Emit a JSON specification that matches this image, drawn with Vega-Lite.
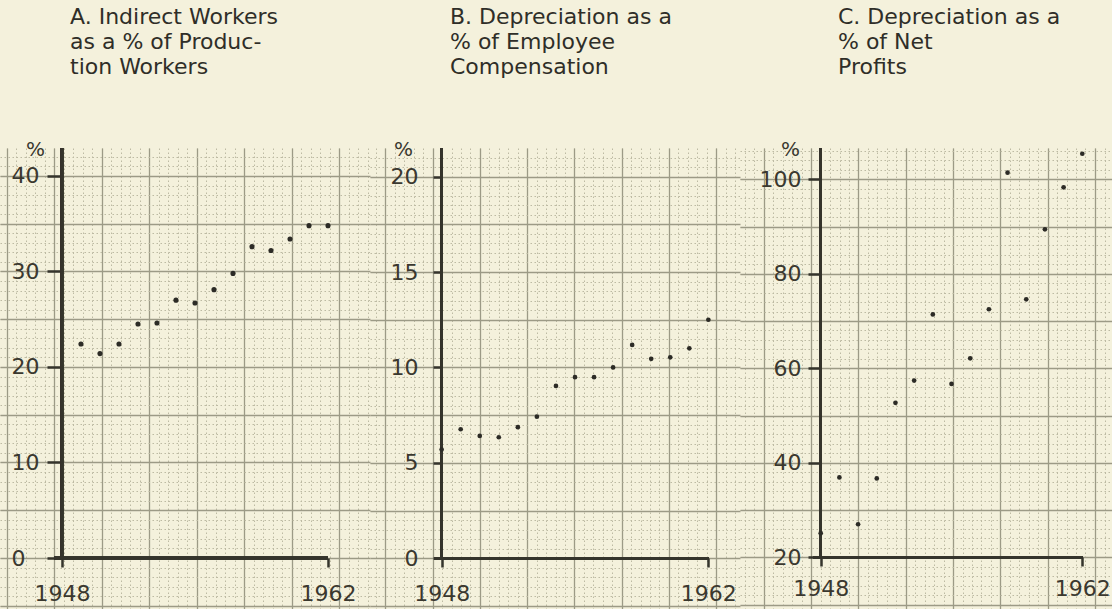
{
  "$schema": "https://vega.github.io/schema/vega-lite/v6.json",
  "padding": {"top": 6, "left": 0, "right": 0, "bottom": 0},
  "background": "#f4f1dc",
  "spacing": 0,
  "config": {
    "view": {"stroke": null},
    "font": "DejaVu Sans",
    "title": {"font": "DejaVu Sans", "fontSize": 22, "fontWeight": "normal", "color": "#2f2e28", "anchor": "start", "lineHeight": 25, "offset": 60, "frame": "group"},
    "axis": {"labelFont": "DejaVu Sans", "labelFontSize": 22, "labelColor": "#3a382f", "titleFont": "DejaVu Sans", "titleFontSize": 20, "titleFontWeight": "normal", "titleColor": "#3a382f", "tickColor": "#35342c", "tickWidth": 2.5, "labelFlush": false, "labelOverlap": false}
  },
  "datasets": {
    "A": [
      {"year": 1949, "value": 22.4}, {"year": 1950, "value": 21.4}, {"year": 1951, "value": 22.4},
      {"year": 1952, "value": 24.5}, {"year": 1953, "value": 24.6}, {"year": 1954, "value": 27.0},
      {"year": 1955, "value": 26.7}, {"year": 1956, "value": 28.1}, {"year": 1957, "value": 29.8},
      {"year": 1958, "value": 32.6}, {"year": 1959, "value": 32.2}, {"year": 1960, "value": 33.4},
      {"year": 1961, "value": 34.8}, {"year": 1962, "value": 34.8}
    ],
    "B": [
      {"year": 1948, "value": 5.7}, {"year": 1949, "value": 6.76}, {"year": 1950, "value": 6.41},
      {"year": 1951, "value": 6.34}, {"year": 1952, "value": 6.87}, {"year": 1953, "value": 7.42},
      {"year": 1954, "value": 9.03}, {"year": 1955, "value": 9.49}, {"year": 1956, "value": 9.49},
      {"year": 1957, "value": 10.0}, {"year": 1958, "value": 11.18}, {"year": 1959, "value": 10.45},
      {"year": 1960, "value": 10.53}, {"year": 1961, "value": 11.0}, {"year": 1962, "value": 12.5}
    ],
    "C": [
      {"year": 1948, "value": 25.1}, {"year": 1949, "value": 36.9}, {"year": 1950, "value": 27.0},
      {"year": 1951, "value": 36.7}, {"year": 1952, "value": 52.7}, {"year": 1953, "value": 57.4},
      {"year": 1954, "value": 71.4}, {"year": 1955, "value": 56.7}, {"year": 1956, "value": 62.1},
      {"year": 1957, "value": 72.5}, {"year": 1958, "value": 101.4}, {"year": 1959, "value": 74.6},
      {"year": 1960, "value": 89.4}, {"year": 1961, "value": 98.3}, {"year": 1962, "value": 105.4}
    ]
  },
  "hconcat": [
    {
      "width": 370, "height": 461,
      "title": {"text": ["A. Indirect Workers", "\u00a0\u00a0\u00a0as a % of Produc-", "\u00a0\u00a0\u00a0tion Workers"], "dx": 70},
      "data": {"name": "A"},
      "layer": [
        {"mark": {"type": "point", "opacity": 0},
         "encoding": {
           "x": {"field": "year", "type": "quantitative", "scale": {"domain": [1944.74, 1964.21], "nice": false, "zero": false},
                 "axis": {"orient": "bottom", "values": [1945.1,1945.6,1946.1,1946.6,1947.1,1947.6,1948.1,1948.6,1949.1,1949.6,1950.1,1950.6,1951.1,1951.6,1952.1,1952.6,1953.1,1953.6,1954.1,1954.6,1955.1,1955.6,1956.1,1956.6,1957.1,1957.6,1958.1,1958.6,1959.1,1959.6,1960.1,1960.6,1961.1,1961.6,1962.1,1962.6,1963.1,1963.6,1964.1], "grid": true, "gridColor": "#bdbaa3", "gridDash": [1.5, 2.5], "gridWidth": 1, "labels": false, "ticks": false, "domain": false, "title": null}},
           "y": {"field": "value", "type": "quantitative", "scale": {"domain": [-5.34, 42.93], "nice": false, "zero": false},
                 "axis": {"orient": "left", "values": [-5,-4,-3,-2,-1,0,1,2,3,4,5,6,7,8,9,10,11,12,13,14,15,16,17,18,19,20,21,22,23,24,25,26,27,28,29,30,31,32,33,34,35,36,37,38,39,40,41,42], "grid": true, "gridColor": "#bdbaa3", "gridDash": [1.5, 2.5], "gridWidth": 1, "labels": false, "ticks": false, "domain": false, "title": null}}
         }},
        {"mark": {"type": "point", "opacity": 0},
         "encoding": {
           "x": {"field": "year", "type": "quantitative", "scale": {"domain": [1944.74, 1964.21], "nice": false, "zero": false},
                 "axis": {"orient": "bottom", "values": [1945.1,1947.6,1950.1,1952.6,1955.1,1957.6,1960.1,1962.6], "grid": true, "gridColor": "#9c9a86", "gridWidth": 1.3, "labels": false, "ticks": false, "domain": false, "title": null}},
           "y": {"field": "value", "type": "quantitative", "scale": {"domain": [-5.34, 42.93], "nice": false, "zero": false},
                 "axis": {"orient": "left", "values": [-5,0,5,10,15,20,25,30,35,40], "grid": true, "gridColor": "#9c9a86", "gridWidth": 1.3, "labels": false, "ticks": false, "domain": false, "title": null}}
         }},
        {"mark": {"type": "rule", "color": "#35342c", "strokeWidth": 2.5},
         "encoding": {"x": {"datum": 1948, "axis": null, "scale": {"domain": [1944.74, 1964.21], "nice": false, "zero": false}}, "y": {"datum": 0, "axis": null, "scale": {"domain": [-5.34, 42.93], "nice": false, "zero": false}}, "y2": {"datum": 42.93}}},
        {"mark": {"type": "rule", "color": "#35342c", "strokeWidth": 2.5},
         "encoding": {"y": {"datum": 0, "axis": null, "scale": {"domain": [-5.34, 42.93], "nice": false, "zero": false}}, "x": {"datum": 1947.6, "axis": null, "scale": {"domain": [1944.74, 1964.21], "nice": false, "zero": false}}, "x2": {"datum": 1962}}},
        {"mark": {"type": "circle", "size": 26, "color": "#2c2b26", "opacity": 1},
         "encoding": {
           "x": {"field": "year", "type": "quantitative", "scale": {"domain": [1944.74, 1964.21], "nice": false, "zero": false},
                 "axis": {"orient": "bottom", "values": [1948, 1962], "format": "d", "offset": -51, "grid": false, "domain": false, "tickSize": 9, "labelPadding": 16, "title": null}},
           "y": {"field": "value", "type": "quantitative", "scale": {"domain": [-5.34, 42.93], "nice": false, "zero": false},
                 "axis": {"orient": "left", "values": [0, 10, 20, 30, 40], "offset": -62, "grid": false, "domain": false, "tickSize": 15, "labelAlign": "left", "labelPadding": 36, "title": "%", "titleAngle": 0, "titleX": -27, "titleY": 1, "titleAlign": "center", "titleBaseline": "middle"}}
         }}
      ],
      "resolve": {"axis": {"x": "independent", "y": "independent"}}
    },
    {
      "width": 370, "height": 461,
      "title": {"text": ["B. Depreciation as a", "\u00a0\u00a0% of Employee", "\u00a0\u00a0Compensation"], "dx": 80},
      "data": {"name": "B"},
      "layer": [
        {"mark": {"type": "point", "opacity": 0},
         "encoding": {
           "x": {"field": "year", "type": "quantitative", "scale": {"domain": [1944.24, 1963.66], "nice": false, "zero": false},
                 "axis": {"orient": "bottom", "values": [1944.55,1945.05,1945.55,1946.04,1946.54,1947.03,1947.53,1948.03,1948.52,1949.02,1949.51,1950.01,1950.51,1951.0,1951.5,1951.99,1952.49,1952.99,1953.48,1953.98,1954.47,1954.97,1955.47,1955.96,1956.46,1956.95,1957.45,1957.95,1958.44,1958.94,1959.43,1959.93,1960.43,1960.92,1961.42,1961.91,1962.41,1962.91,1963.4], "grid": true, "gridColor": "#bdbaa3", "gridDash": [1.5, 2.5], "gridWidth": 1, "labels": false, "ticks": false, "domain": false, "title": null}},
           "y": {"field": "value", "type": "quantitative", "scale": {"domain": [-2.66, 21.5], "nice": false, "zero": false},
                 "axis": {"orient": "left", "values": [-2.5,-2,-1.5,-1,-0.5,0,0.5,1,1.5,2,2.5,3,3.5,4,4.5,5,5.5,6,6.5,7,7.5,8,8.5,9,9.5,10,10.5,11,11.5,12,12.5,13,13.5,14,14.5,15,15.5,16,16.5,17,17.5,18,18.5,19,19.5,20,20.5,21], "grid": true, "gridColor": "#bdbaa3", "gridDash": [1.5, 2.5], "gridWidth": 1, "labels": false, "ticks": false, "domain": false, "title": null}}
         }},
        {"mark": {"type": "point", "opacity": 0},
         "encoding": {
           "x": {"field": "year", "type": "quantitative", "scale": {"domain": [1944.24, 1963.66], "nice": false, "zero": false},
                 "axis": {"orient": "bottom", "values": [1945.05,1947.53,1950.01,1952.49,1954.97,1957.45,1959.93,1962.41], "grid": true, "gridColor": "#9c9a86", "gridWidth": 1.3, "labels": false, "ticks": false, "domain": false, "title": null}},
           "y": {"field": "value", "type": "quantitative", "scale": {"domain": [-2.66, 21.5], "nice": false, "zero": false},
                 "axis": {"orient": "left", "values": [-2.5,0,2.5,5,7.5,10,12.5,15,17.5,20], "grid": true, "gridColor": "#9c9a86", "gridWidth": 1.3, "labels": false, "ticks": false, "domain": false, "title": null}}
         }},
        {"mark": {"type": "rule", "color": "#35342c", "strokeWidth": 2.5},
         "encoding": {"x": {"datum": 1948, "axis": null, "scale": {"domain": [1944.24, 1963.66], "nice": false, "zero": false}}, "y": {"datum": 0, "axis": null, "scale": {"domain": [-2.66, 21.5], "nice": false, "zero": false}}, "y2": {"datum": 21.5}}},
        {"mark": {"type": "rule", "color": "#35342c", "strokeWidth": 2.5},
         "encoding": {"y": {"datum": 0, "axis": null, "scale": {"domain": [-2.66, 21.5], "nice": false, "zero": false}}, "x": {"datum": 1947.6, "axis": null, "scale": {"domain": [1944.24, 1963.66], "nice": false, "zero": false}}, "x2": {"datum": 1962}}},
        {"mark": {"type": "circle", "size": 22, "color": "#2c2b26", "opacity": 1},
         "encoding": {
           "x": {"field": "year", "type": "quantitative", "scale": {"domain": [1944.24, 1963.66], "nice": false, "zero": false},
                 "axis": {"orient": "bottom", "values": [1948, 1962], "format": "d", "offset": -51, "grid": false, "domain": false, "tickSize": 9, "labelPadding": 16, "title": null}},
           "y": {"field": "value", "type": "quantitative", "scale": {"domain": [-2.66, 21.5], "nice": false, "zero": false},
                 "axis": {"orient": "left", "values": [0, 5, 10, 15, 20], "offset": -72, "grid": false, "domain": false, "tickSize": 9, "labelPadding": 15, "title": "%", "titleAngle": 0, "titleX": -39, "titleY": 1, "titleAlign": "center", "titleBaseline": "middle"}}
         }}
      ],
      "resolve": {"axis": {"x": "independent", "y": "independent"}}
    },
    {
      "width": 372, "height": 461,
      "title": {"text": ["C. Depreciation as a", "\u00a0\u00a0\u00a0\u00a0% of Net", "\u00a0\u00a0\u00a0\u00a0Profits"], "dx": 98},
      "data": {"name": "C"},
      "layer": [
        {"mark": {"type": "point", "opacity": 0},
         "encoding": {
           "x": {"field": "year", "type": "quantitative", "scale": {"domain": [1943.68, 1963.59], "nice": false, "zero": false},
                 "axis": {"orient": "bottom", "values": [1943.95,1944.45,1944.96,1945.47,1945.97,1946.48,1946.98,1947.49,1948.0,1948.5,1949.01,1949.51,1950.02,1950.53,1951.03,1951.54,1952.04,1952.55,1953.06,1953.56,1954.07,1954.58,1955.09,1955.59,1956.1,1956.6,1957.11,1957.62,1958.12,1958.63,1959.14,1959.64,1960.15,1960.66,1961.16,1961.67,1962.17,1962.68,1963.19], "grid": true, "gridColor": "#bdbaa3", "gridDash": [1.5, 2.5], "gridWidth": 1, "labels": false, "ticks": false, "domain": false, "title": null}},
           "y": {"field": "value", "type": "quantitative", "scale": {"domain": [9.06, 106.62], "nice": false, "zero": false},
                 "axis": {"orient": "left", "values": [10,12,14,16,18,20,22,24,26,28,30,32,34,36,38,40,42,44,46,48,50,52,54,56,58,60,62,64,66,68,70,72,74,76,78,80,82,84,86,88,90,92,94,96,98,100,102,104,106], "grid": true, "gridColor": "#bdbaa3", "gridDash": [1.5, 2.5], "gridWidth": 1, "labels": false, "ticks": false, "domain": false, "title": null}}
         }},
        {"mark": {"type": "point", "opacity": 0},
         "encoding": {
           "x": {"field": "year", "type": "quantitative", "scale": {"domain": [1943.68, 1963.59], "nice": false, "zero": false},
                 "axis": {"orient": "bottom", "values": [1944.96,1947.49,1950.02,1952.55,1955.09,1957.62,1960.15,1962.68], "grid": true, "gridColor": "#9c9a86", "gridWidth": 1.3, "labels": false, "ticks": false, "domain": false, "title": null}},
           "y": {"field": "value", "type": "quantitative", "scale": {"domain": [9.06, 106.62], "nice": false, "zero": false},
                 "axis": {"orient": "left", "values": [10,20,30,40,50,60,70,80,90,100], "grid": true, "gridColor": "#9c9a86", "gridWidth": 1.3, "labels": false, "ticks": false, "domain": false, "title": null}}
         }},
        {"mark": {"type": "rule", "color": "#35342c", "strokeWidth": 2.5},
         "encoding": {"x": {"datum": 1948, "axis": null, "scale": {"domain": [1943.68, 1963.59], "nice": false, "zero": false}}, "y": {"datum": 20, "axis": null, "scale": {"domain": [9.06, 106.62], "nice": false, "zero": false}}, "y2": {"datum": 106.62}}},
        {"mark": {"type": "rule", "color": "#35342c", "strokeWidth": 2.5},
         "encoding": {"y": {"datum": 20, "axis": null, "scale": {"domain": [9.06, 106.62], "nice": false, "zero": false}}, "x": {"datum": 1947.6, "axis": null, "scale": {"domain": [1943.68, 1963.59], "nice": false, "zero": false}}, "x2": {"datum": 1962}}},
        {"mark": {"type": "circle", "size": 22, "color": "#2c2b26", "opacity": 1},
         "encoding": {
           "x": {"field": "year", "type": "quantitative", "scale": {"domain": [1943.68, 1963.59], "nice": false, "zero": false},
                 "axis": {"orient": "bottom", "values": [1948, 1962], "format": "d", "offset": -52, "grid": false, "domain": false, "tickSize": 9, "labelPadding": 12, "title": null}},
           "y": {"field": "value", "type": "quantitative", "scale": {"domain": [9.06, 106.62], "nice": false, "zero": false},
                 "axis": {"orient": "left", "values": [20, 40, 60, 80, 100], "offset": -81, "grid": false, "domain": false, "tickSize": 13, "labelPadding": 7, "title": "%", "titleAngle": 0, "titleX": -31, "titleY": 1, "titleAlign": "center", "titleBaseline": "middle"}}
         }}
      ],
      "resolve": {"axis": {"x": "independent", "y": "independent"}}
    }
  ]
}
